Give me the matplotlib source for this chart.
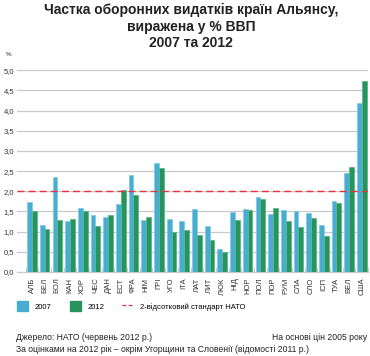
import numpy as np
import matplotlib
matplotlib.use("Agg")
import matplotlib.pyplot as plt
import matplotlib.patches as patches
from matplotlib.lines import Line2D

plt.rcParams['font.family'] = ['Liberation Sans', 'DejaVu Sans']

countries = ["АЛБ", "БЕЛ", "БОЛ", "КАН", "ХОР", "ЧЕС", "ДАН", "ЕСТ", "ФРА",
             "НІМ", "ГРІ", "УГО", "ІТА", "ЛАТ", "ЛИТ", "ЛЮК", "НІД", "НОР",
             "ПОЛ", "ПОР", "РУМ", "СЛА", "СЛО", "ІСП", "ТУА", "ВЕЛ", "США"]
share_2007 = [1.73, 1.16, 2.36, 1.26, 1.59, 1.40, 1.36, 1.69, 2.41,
              1.28, 2.69, 1.32, 1.26, 1.56, 1.15, 0.58, 1.48, 1.56,
              1.85, 1.43, 1.54, 1.52, 1.46, 1.17, 1.77, 2.45, 4.19]
share_2012 = [1.50, 1.07, 1.28, 1.32, 1.50, 1.14, 1.42, 2.03, 1.91,
              1.36, 2.57, 1.00, 1.05, 0.92, 0.80, 0.49, 1.29, 1.53,
              1.82, 1.58, 1.26, 1.11, 1.33, 0.89, 1.72, 2.60, 4.73]
nato_target = 2.0
y_ticks = [0.0, 0.5, 1.0, 1.5, 2.0, 2.5, 3.0, 3.5, 4.0, 4.5, 5.0]

blue = "#47aed2"
blue_edge = "#86cbe3"
green = "#27935e"
green_edge = "#5cb888"
grid_c = "#c9c9c9"

fig = plt.figure(figsize=(3.70, 3.56), dpi=100)
ax = fig.add_axes([0.046, 0.236, 0.949, 0.567])

x = np.arange(len(countries))
w = 0.38
ax.bar(x - w / 2, share_2007, w, color=blue, edgecolor=blue_edge, linewidth=0.6, zorder=3)
ax.bar(x + w / 2, share_2012, w, color=green, edgecolor=green_edge, linewidth=0.6, zorder=3)
ax.axhline(nato_target, color="#e8323c", linestyle=(0, (5, 3)), linewidth=1.0, zorder=4)

ax.set_xlim(-1.18, len(countries) - 0.6)
ax.set_ylim(0, 5.0)
ax.set_yticks(y_ticks)
ax.set_yticklabels([f"{v:.1f}".replace(".", ",") for v in y_ticks], fontsize=5.5, color="#333333")
ax.yaxis.grid(True, color=grid_c, linewidth=0.9, zorder=0)
ax.set_axisbelow(True)

ax.set_xticks(x)
ax.set_xticklabels(countries, rotation=90, fontsize=5.5, color="#333333")
ax.set_xticks(np.arange(-0.5, len(countries)), minor=True)
ax.tick_params(axis="x", which="major", length=0, pad=4)
ax.tick_params(axis="x", which="minor", direction="in", length=3.5, color=grid_c, width=0.8)
ax.tick_params(axis="y", length=0, pad=2)

for s in ["top", "right", "left"]:
    ax.spines[s].set_visible(False)
ax.spines["bottom"].set_color(grid_c)
ax.spines["bottom"].set_linewidth(0.9)

title_lines = ["Частка оборонних видатків країн Альянсу,", "виражена у % ВВП", "2007 та 2012"]
for i, line in enumerate(title_lines):
    fig.text(191 / 370, 1 - (10 + 16.5 * i) / 356, line, ha="center", va="center",
             fontsize=10, fontweight="bold", color="#222222")
fig.text(6 / 370, 1 - 55 / 356, "%", ha="left", va="center", fontsize=4.5, color="#333333")

handles = [patches.Patch(color=blue), patches.Patch(color=green),
           Line2D([], [], color="#e8323c", linestyle=(0, (3, 2)), linewidth=0.9)]
fig.legend(handles, ["2007", "2012", "2-відсотковий стандарт НАТО"], loc="center left",
           bbox_to_anchor=(10 / 370, 1 - 306 / 356), ncol=3, frameon=False, fontsize=5.5,
           handlelength=1.5, handleheight=1.5, handletextpad=0.8, columnspacing=2.4)

fig.text(16 / 370, 1 - 337 / 356, "Джерело: НАТО (червень 2012 р.)", ha="left", va="center",
         fontsize=6.2, color="#222222")
fig.text(367 / 370, 1 - 337 / 356, "На основі цін 2005 року", ha="right", va="center",
         fontsize=6.2, color="#222222")
fig.text(16 / 370, 1 - 350 / 356,
         "За оцінками на 2012 рік – окрім Угорщини та Словенії (відомості 2011 р.)",
         ha="left", va="center", fontsize=6.2, color="#222222")

fig.savefig("out.png", dpi=100)
